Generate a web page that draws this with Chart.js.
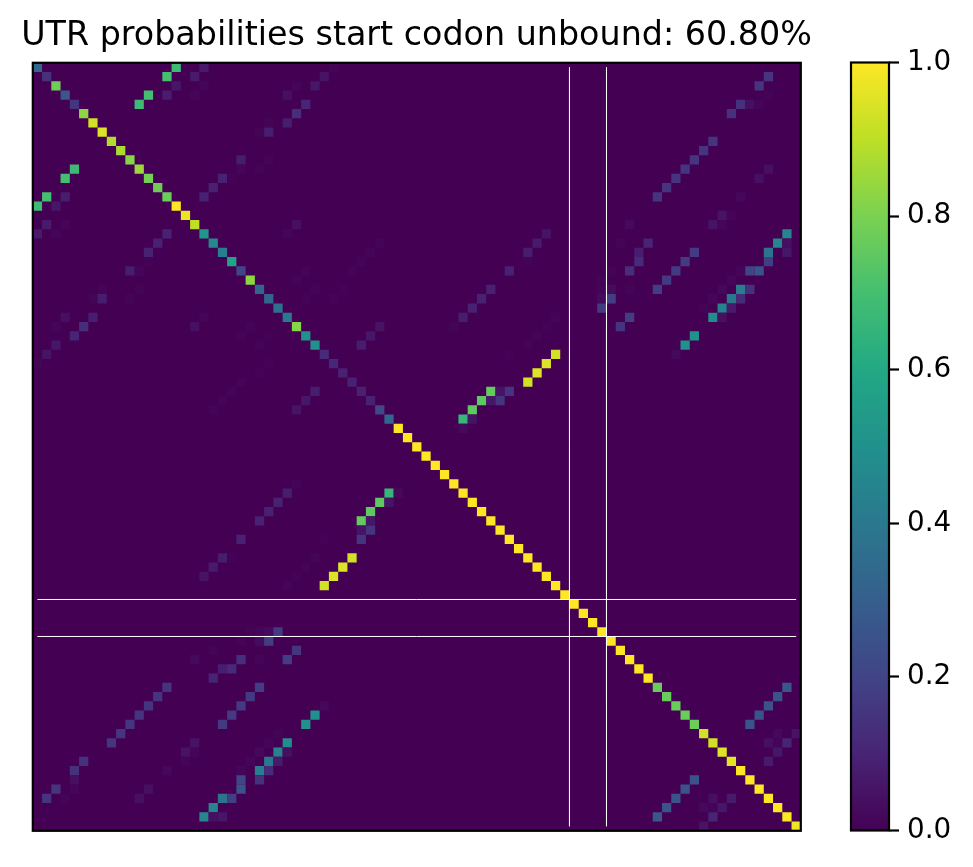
<!DOCTYPE html>
<html lang="en">
<head>
    <meta charset="UTF-8">
    <title>UTR probabilities</title>
    <script src="https://cdn.jsdelivr.net/npm/chart.js"></script>
    <style>
        body { margin: 0; background: white; }
        canvas { position: absolute; top: 0; }
        #matrix { left: 0; }
        #colorbar { left: 800px; }
    </style>
</head>
<body>
    <canvas id="matrix" width="833" height="867"></canvas>
    <canvas id="colorbar" width="173" height="867"></canvas>

    <script>
        const titleText = 'UTR probabilities start codon unbound: 60.80%';
        const size = 83;

        // main diagonal, position 0 to 82
        const diagVals = [
            .33, .14, .78, .27, .15, .83, .93, .95, .88, .87,
            .82, .85, .79, .78, .77, 1, .97, .9, .52, .47,
            .42, .58, .2, .83, .33, .33, .37, .4, .82, .5,
            .5, .12, .11, .09, .09, .09, .09, .22, .33, 1,
            1, 1, 1, 1, 1, 1, 1, 1, 1, 1,
            1, 1, 1, 1, 1, 1, 1, 1, 1, 1,
            1, 1, 1, 1, 1, 1, 1, .77, .77, .77,
            .77, .77, .93, .93, .95, .96, 1, 1, 1, 1,
            1, 1, .98
        ];

        // the matrix is symmetric, only the upper half is listed
        const pairRows = [0, 1, 2, 3, 4, 5, 6, 7, 8, 9, 10, 11, 12, 13, 14, 16, 17, 18, 19, 20,
            21, 22, 23, 24, 25, 26, 27, 28, 29, 30, 31, 32, 33, 34, 35, 36, 37, 38, 39,
            67, 68, 69, 70, 71, 72, 73, 74, 75];
        const pairCols = [
            [15, 18, 32], [14, 17, 31, 79], [15, 18, 28, 30, 78], [12, 14, 17, 27, 79],
            [11, 29, 76, 77, 78], [28, 75], [25, 27], [24, 25], [73], [72],
            [22, 25, 71], [22, 24, 70, 79], [20, 21, 69, 78], [19, 68], [18, 67, 76],
            [74, 75], [28, 64, 73, 74], [27, 55, 81], [37, 54, 63, 66, 80, 81],
            [36, 53, 65, 71, 79, 81],
            [35, 53, 65, 70, 79], [29, 34, 51, 62, 64, 69, 76, 77, 78], [28, 61, 68, 75],
            [30, 33, 49, 61, 62, 64, 67, 74, 76, 77], [29, 32, 48, 61, 62, 73, 75, 76],
            [47, 61, 72, 74, 75], [46, 56, 64, 73, 74], [37, 45, 55, 63], [36, 54, 71],
            [35, 53, 70], [51, 56, 69], [55], [54], [53], [49, 50, 51], [48, 49, 50], [47],
            [46, 47], [46],
            [81], [80], [79], [78], [77], [80, 82], [79, 80, 81], [80], [79]
        ];
        const pairVals = [
            [.68, .07, .01], [.7, .07, .05, .15], [.06, .015, .015, .06, .15], [.7, .08, .015, .04, .01],
            [.68, .1, .14, .04, .015], [.13, .14], [.01, .08], [.01, .08], [.15], [.15],
            [.08, .01, .15], [.015, .01, .15, .04], [.09, .006, .15, .04], [.09, .15], [.09, .15, .02],
            [.05, .012], [.04, .025, .05, .015], [.015, .05, .46], [.008, .07, .01, .1, .46, .04],
            [.008, .08, .08, .17, .38, .06],
            [.008, .006, .12, .17, .18], [.008, .008, .09, .01, .13, .17, .015, .2, .25], [.008, .01, .17, .015],
            [.008, .005, .09, .015, .03, .012, .18, .02, .42, .14], [.005, .005, .09, .03, .18, .015, .4, .12],
            [.09, .17, .01, .44, .07], [.08, .012, .18, .48, .04], [.05, .01, .005, .15], [.06, .01, .5],
            [.08, .01, .5], [.005, .93, .02], [.95], [.95], [.93], [.76, .05, .15], [.75, .06, .15], [.75],
            [.66, .05], [.02],
            [.27], [.26], [.26], [.26], [.26], [.02, .05], [.04, .012, .1], [.06], [.07]
        ];

        // white marker lines
        const markerLines = [57.5, 61.5];
        const lineStart = 0;
        const lineEnd = 82;

        const barTicks = [0, 0.2, 0.4, 0.6, 0.8, 1];
        const viridis = ['#440154', '#482475', '#414487', '#355f8d', '#2a788e', '#21918c',
            '#22a884', '#44bf70', '#7ad151', '#bddf26', '#fde725'];

        const FONT = 'DejaVu Sans';

        function hexToRgb(hex) {
            return [1, 3, 5].map(i => parseInt(hex.slice(i, i + 2), 16));
        }

        // value 0..1 to a viridis colour
        function colorFor(v) {
            const pos = v * (viridis.length - 1);
            const i = Math.min(Math.floor(pos), viridis.length - 2);
            const a = hexToRgb(viridis[i]);
            const b = hexToRgb(viridis[i + 1]);
            const t = pos - i;
            return `rgb(${a.map((c, k) => Math.round(c + (b[k] - c) * t)).join(',')})`;
        }

        const cells = [];
        diagVals.forEach((v, i) => cells.push({ x: i, y: i, v: v }));
        pairRows.forEach((row, n) => {
            pairCols[n].forEach((col, k) => {
                cells.push({ x: col, y: row, v: pairVals[n][k] });
                cells.push({ x: row, y: col, v: pairVals[n][k] });
            });
        });

        const lineDatasets = [];
        markerLines.forEach(p => {
            lineDatasets.push({ data: [{ x: p, y: lineStart }, { x: p, y: lineEnd }] });
            lineDatasets.push({ data: [{ x: lineStart, y: p }, { x: lineEnd, y: p }] });
        });
        lineDatasets.forEach(d => {
            d.showLine = true;
            d.borderColor = '#ffffff';
            d.borderWidth = 1;
            d.pointRadius = 0;
            d.order = 0;
        });

        // purple background of the heatmap, zero cells are not listed
        const backgroundPlugin = {
            id: 'background',
            beforeDatasetsDraw(chart) {
                const a = chart.chartArea;
                chart.ctx.fillStyle = viridis[0];
                chart.ctx.fillRect(a.left, a.top, a.width, a.height);
            }
        };

        const framePlugin = {
            id: 'frame',
            afterDraw(chart) {
                const a = chart.chartArea;
                const ctx = chart.ctx;
                ctx.save();
                ctx.strokeStyle = '#000';
                ctx.lineWidth = 2.2;
                ctx.strokeRect(a.left, a.top, a.width, a.height);
                ctx.restore();
            }
        };

        // empty side axes keep the title box wider than the plot, it would be squeezed otherwise
        const sideAxis = {
            min: 0,
            max: 1,
            border: { display: false },
            grid: { display: false },
            ticks: { display: false }
        };

        new Chart(document.getElementById('matrix'), {
            type: 'scatter',
            data: {
                datasets: [...lineDatasets, {
                    data: cells,
                    order: 1,
                    pointStyle: 'rect',
                    borderWidth: 0,
                    backgroundColor: ctx => ctx.raw ? colorFor(ctx.raw.v) : viridis[0],
                    // rect point side is radius * sqrt(2)
                    radius: ctx => ctx.chart.chartArea
                        ? ctx.chart.chartArea.width / size / Math.SQRT2
                        : 6.5
                }]
            },
            plugins: [backgroundPlugin, framePlugin],
            options: {
                responsive: false,
                animation: false,
                layout: { autoPadding: false, padding: { left: 0, right: 0, top: 16.5, bottom: 36.2 } },
                scales: {
                    x: { display: false, min: -0.5, max: size - 0.5 },
                    y: { display: false, min: -0.5, max: size - 0.5, reverse: true },
                    sideLeft: { ...sideAxis, position: 'left', afterFit: s => { s.width = 32.8; } },
                    sideRight: { ...sideAxis, position: 'right', afterFit: s => { s.width = 32.2; } }
                },
                plugins: {
                    legend: { display: false },
                    tooltip: { enabled: false },
                    title: {
                        display: true,
                        text: titleText,
                        color: '#000',
                        font: { family: FONT, size: 33.33, weight: 'normal' },
                        padding: { top: 0, bottom: 6.3 }
                    }
                }
            }
        });

        new Chart(document.getElementById('colorbar'), {
            type: 'bar',
            data: {
                labels: [''],
                datasets: [{
                    data: [[0, 1]],
                    barPercentage: 1,
                    categoryPercentage: 1,
                    backgroundColor: ctx => {
                        const a = ctx.chart.chartArea;
                        if (!a) return viridis[0];
                        const g = ctx.chart.ctx.createLinearGradient(0, a.bottom, 0, a.top);
                        viridis.forEach((c, i) => g.addColorStop(i / (viridis.length - 1), c));
                        return g;
                    }
                }]
            },
            plugins: [framePlugin],
            options: {
                responsive: false,
                animation: false,
                layout: { autoPadding: false, padding: { left: 51, right: 0, top: 62.5, bottom: 36.5 } },
                scales: {
                    x: { display: false },
                    y: {
                        position: 'right',
                        min: 0,
                        max: 1,
                        afterFit: s => { s.width = 84; },
                        afterBuildTicks: s => { s.ticks = barTicks.map(v => ({ value: v })); },
                        border: { display: false },
                        grid: { drawOnChartArea: false, tickLength: 10, tickColor: '#000', tickWidth: 2.2 },
                        ticks: {
                            color: '#000',
                            padding: 8,
                            font: { family: FONT, size: 27.78 },
                            callback: v => v.toFixed(1)
                        }
                    }
                },
                plugins: {
                    legend: { display: false },
                    tooltip: { enabled: false }
                }
            }
        });
    </script>
</body>
</html>
